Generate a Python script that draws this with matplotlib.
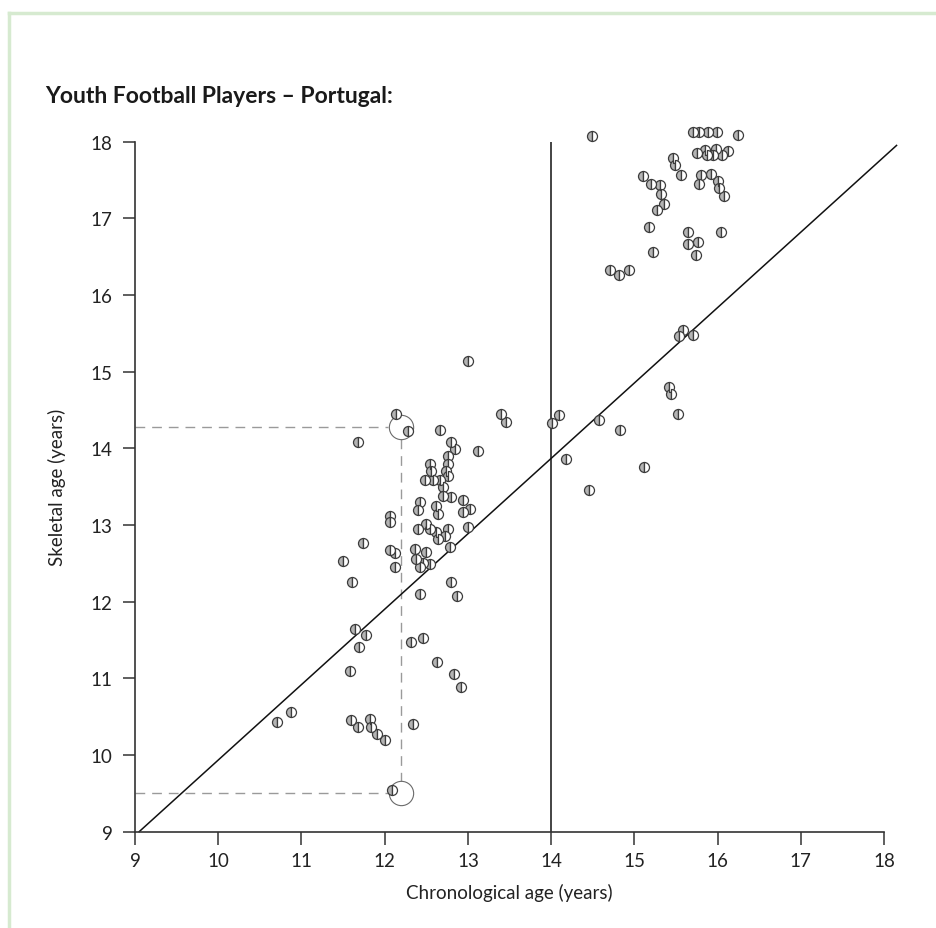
import matplotlib
matplotlib.use("Agg")
import matplotlib.pyplot as plt
from matplotlib.lines import Line2D

plt.rcParams['font.family'] = ['Lato', 'DejaVu Sans']

# chronological age vs skeletal age, one entry per player
chrono_age = [
    14.49, 15.70, 15.78, 15.88, 15.99, 16.24,
    15.75, 15.85, 15.98, 16.12, 15.87, 15.95, 16.05,
    15.46, 15.49, 15.56, 15.10,
    15.20, 15.31, 15.32, 15.35, 15.27,
    15.80, 15.92, 15.78, 16.00, 16.02, 16.08,
    15.18, 15.64, 16.04, 15.64, 15.76, 15.74, 15.22,
    14.71, 14.82, 14.93, 15.58, 15.54, 15.70,
    15.42, 15.44, 15.53, 13.40, 13.46, 14.01, 14.10,
    14.57, 14.83, 14.18, 15.12, 14.46,
    13.00, 12.14, 12.28, 11.68, 12.67, 13.12,
    12.80, 12.84, 12.76, 12.76, 12.74, 12.54, 12.56,
    12.48, 12.58, 12.66, 12.76, 12.70, 12.70, 12.80,
    12.94, 13.02, 12.94, 12.42, 12.40, 12.62, 12.64,
    13.00, 12.06, 12.06,
    12.40, 12.50, 12.54, 12.62, 12.76, 12.64, 12.72,
    11.74, 12.78, 11.50, 12.06, 12.12, 12.12,
    12.36, 12.50, 12.38, 12.46, 12.54, 12.42,
    11.61, 12.80, 12.42, 12.87,
    11.64, 11.77, 11.69, 11.58,
    12.31, 12.46, 12.63, 12.83, 12.92,
    10.87, 10.70,
    11.60, 11.68, 11.82, 11.83, 11.91, 12.00,
    12.34, 12.09,
]
skeletal_age = [
    18.07, 18.12, 18.12, 18.12, 18.12, 18.09,
    17.85, 17.89, 17.90, 17.88, 17.82, 17.82, 17.83,
    17.78, 17.69, 17.56, 17.55,
    17.45, 17.43, 17.32, 17.19, 17.11,
    17.56, 17.58, 17.45, 17.49, 17.40, 17.29,
    16.88, 16.82, 16.82, 16.67, 16.69, 16.52, 16.56,
    16.33, 16.26, 16.33, 15.54, 15.47, 15.48,
    14.80, 14.71, 14.45, 14.45, 14.34, 14.33, 14.43,
    14.37, 14.24, 13.86, 13.76, 13.45,
    15.14, 14.45, 14.22, 14.08, 14.24, 13.97,
    14.08, 13.99, 13.90, 13.80, 13.71, 13.80, 13.71,
    13.58, 13.58, 13.58, 13.64, 13.49, 13.38, 13.36,
    13.32, 13.21, 13.17, 13.30, 13.19, 13.25, 13.14,
    12.97, 13.12, 13.04,
    12.95, 13.01, 12.95, 12.91, 12.95, 12.82, 12.86,
    12.77, 12.71, 12.53, 12.67, 12.64, 12.45,
    12.69, 12.65, 12.56, 12.51, 12.49, 12.45,
    12.25, 12.25, 12.10, 12.07,
    11.64, 11.56, 11.41, 11.09,
    11.47, 11.53, 11.21, 11.05, 10.89,
    10.56, 10.43,
    10.45, 10.36, 10.47, 10.37, 10.27, 10.20,
    10.41, 9.54,
]

# reference line (slightly under identity) and the two highlighted players
ref_x = [9.05, 18.15]
ref_y = [9.0, 17.95]
split_age = 14
mark_x = 12.19
mark_y = [14.28, 9.51]

ticks = list(range(9, 19))

fig = plt.figure(figsize=(9.37, 9.29), dpi=100)
ax = fig.add_axes([0.1441, 0.1037, 0.7994, 0.7428])

ax.plot(ref_x, ref_y, color='#111111', lw=1.1, clip_on=False, zorder=2)
ax.plot([split_age, split_age], [9, 18], color='#111111', lw=1.1, zorder=2)

# dashed guides to the circled players
dash = dict(color='#9a9a9a', lw=1.0, dashes=(7, 5), zorder=1)
ax.plot([9, mark_x - 0.145], [mark_y[0], mark_y[0]], **dash)
ax.plot([9, mark_x - 0.145], [mark_y[1], mark_y[1]], **dash)
ax.plot([mark_x, mark_x], [mark_y[0] - 0.157, mark_y[1] + 0.157], **dash)
ax.plot([mark_x] * 2, mark_y, ls='none', marker='o', ms=17.5,
        mfc='none', mec='#6a6a6a', mew=0.8, zorder=3)

ax.plot(chrono_age, skeletal_age, ls='none', marker='o', ms=7.2,
        fillstyle='left', mfc='#b4b4b4', mfcalt='white',
        mec='#3c3c3c', mew=0.9, zorder=4, clip_on=False)

ax.set_xlim(9, 18)
ax.set_ylim(9, 18)
ax.set_xticks(ticks)
ax.set_yticks(ticks)
ax.set_xticklabels([str(t) for t in ticks], fontsize=13.5, color='#222222')
ax.set_yticklabels([str(t) for t in ticks], fontsize=13.5, color='#222222')
ax.tick_params(direction='out', length=9, width=1.1, color='#333333')
ax.tick_params(axis='y', pad=7)
ax.tick_params(axis='x', pad=6)
for side in ['top', 'right']:
    ax.spines[side].set_visible(False)
for side in ['left', 'bottom']:
    ax.spines[side].set_color('#333333')
    ax.spines[side].set_linewidth(1.2)

ax.set_xlabel('Chronological age (years)', fontsize=13.5, color='#222222', labelpad=10)
ax.set_ylabel('Skeletal age (years)', fontsize=13.5, color='#222222', labelpad=18)

fig.text(0.048, 0.896, 'Youth Football Players – Portugal:', fontsize=16.5,
         fontweight='bold', color='#1a1a1a', va='center')

# light green frame on the left and top
fig.add_artist(Line2D([0.010, 0.010], [0, 0.985], color='#d6ead0', lw=2.5))
fig.add_artist(Line2D([0.010, 1.0], [0.985, 0.985], color='#d6ead0', lw=2.5))

fig.savefig('out.png', dpi=100, facecolor='white')
